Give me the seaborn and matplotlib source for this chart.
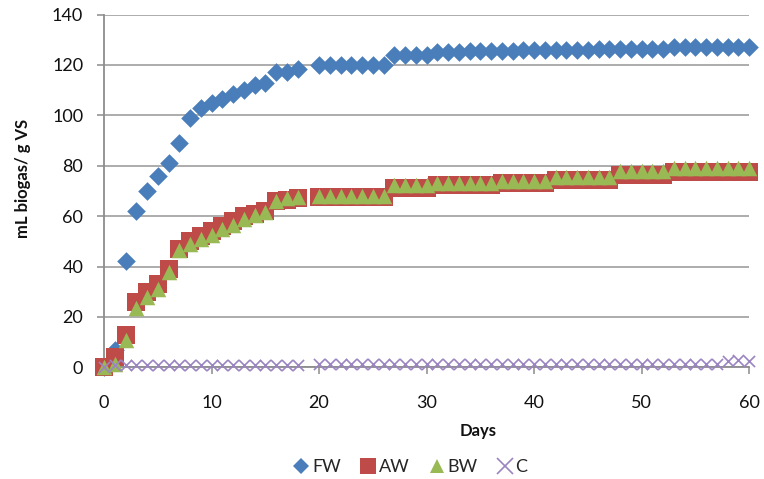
import matplotlib
matplotlib.use("Agg")
import matplotlib.pyplot as plt
from matplotlib.lines import Line2D
import pandas as pd
import seaborn as sns

# Cumulative biogas yield per digester, sampled daily (no reading on day 19)
days = [0, 1, 2, 3, 4, 5, 6, 7, 8, 9, 10, 11, 12, 13, 14, 15, 16, 17, 18,
        20, 21, 22, 23, 24, 25, 26, 27, 28, 29, 30, 31, 32, 33, 34, 35, 36,
        37, 38, 39, 40, 41, 42, 43, 44, 45, 46, 47, 48, 49, 50, 51, 52, 53,
        54, 55, 56, 57, 58, 59, 60]

fw = [0, 7, 42, 62, 70, 76, 81, 89, 99, 103, 105, 106.5, 108.5, 110, 112, 113, 117, 117, 118.5,
      120, 120, 120, 120, 120, 120, 120, 124, 124, 124, 124, 125, 125, 125, 125.5, 125.5, 125.5,
      125.5, 125.5, 126, 126, 126, 126, 126, 126, 126, 126.5, 126.5, 126.5, 126.5, 126.5, 126.5,
      126.5, 127, 127, 127, 127, 127, 127, 127, 127]

aw = [0, 4, 13, 26, 30, 33, 39, 47, 50, 52, 54, 56, 58, 60, 61, 62, 66, 66.5, 67,
      67.5, 67.5, 67.5, 67.5, 67.5, 67.5, 67.5, 71, 71, 71, 71, 72.5, 72.5, 72.5, 72.5, 72.5, 72.5,
      73, 73, 73, 73, 73, 74.5, 74.5, 74.5, 74.5, 74.5, 74.5, 76.5, 76.5, 76.5, 76.5, 76.5,
      77.5, 77.5, 77.5, 77.5, 77.5, 77.5, 77.5, 77.5]

bw = [0, 1.5, 11, 23.5, 28, 31, 38, 46.5, 49, 51, 52.5, 55, 56.5, 59, 60.5, 61.5, 66, 67, 67.5,
      68, 68, 68, 68, 68, 68, 68, 72.5, 72.5, 72.5, 72.5, 73, 73, 73, 73, 73, 73,
      74, 74, 74, 74, 74, 75.5, 75.5, 75.5, 75.5, 75.5, 75.5, 78, 78, 78, 78, 78,
      79, 79, 79, 79, 79, 79, 79, 79]

c = [0, 1, 1, 1, 1, 1, 1, 1, 1, 1, 1, 1, 1, 1, 1, 1, 1, 1, 1,
     1.3, 1.3, 1.3, 1.3, 1.3, 1.3, 1.3, 1.3, 1.3, 1.3, 1.3, 1.3, 1.3, 1.3, 1.3, 1.3, 1.3,
     1.3, 1.3, 1.3, 1.3, 1.3, 1.3, 1.3, 1.3, 1.3, 1.3, 1.3, 1.3, 1.3, 1.3, 1.3, 1.3,
     1.3, 1.3, 1.3, 1.3, 1.3, 2.5, 3, 2.5]

series_names = ["FW", "AW", "BW", "C"]
series_values = [fw, aw, bw, c]
colors = {"FW": "#4A7EBB", "AW": "#BE4B48", "BW": "#98B954", "C": "#9A84C2"}
markers = {"FW": "D", "AW": "s", "BW": "^", "C": "x"}
sizes = {"FW": 90, "AW": 160, "BW": 125, "C": 64}

x_ticks = [0, 10, 20, 30, 40, 50, 60]
y_ticks = [0, 20, 40, 60, 80, 100, 120, 140]

frames = [pd.DataFrame({"Days": days, "yield": vals, "series": name})
          for name, vals in zip(series_names, series_values)]
df = pd.concat(frames, ignore_index=True)

sns.set_style("white")
plt.rcParams["font.family"] = ["Lato", "DejaVu Sans"]

fig = plt.figure(figsize=(7.64, 4.79), dpi=100)
ax = fig.add_axes([104 / 764, 1 - 367.3 / 479, (749 - 104) / 764, (367.3 - 14.5) / 479])

grid_color = "#A6A6A6"
axis_color = "#8C8C8C"

for name in series_names:
    sub = df[df["series"] == name]
    if markers[name] == "x":
        sns.scatterplot(data=sub, x="Days", y="yield", marker="x", s=sizes[name],
                        color=colors[name], linewidth=1.2, clip_on=False,
                        legend=False, ax=ax, zorder=5)
    else:
        sns.scatterplot(data=sub, x="Days", y="yield", marker=markers[name], s=sizes[name],
                        color=colors[name], linewidth=0, clip_on=False,
                        legend=False, ax=ax, zorder=4)

ax.set_xlim(0, 60)
ax.set_ylim(0, 140)
ax.set_xticks(x_ticks)
ax.set_yticks(y_ticks)
ax.set_xlabel("")
ax.set_ylabel("")

ax.yaxis.grid(True, color=grid_color, linewidth=1.3)
ax.xaxis.grid(False)
ax.set_axisbelow(True)

for side in ["top", "right"]:
    ax.spines[side].set_visible(False)
for side in ["left", "bottom"]:
    ax.spines[side].set_visible(True)
    ax.spines[side].set_color(axis_color)
    ax.spines[side].set_linewidth(1.3)

ax.tick_params(axis="y", which="major", direction="out", length=5, width=1.1,
               color=axis_color, pad=10, labelsize=13, labelcolor="#111111", left=True)
ax.tick_params(axis="x", which="major", direction="out", length=5, width=1.1,
               color=axis_color, pad=15, labelsize=13, labelcolor="#111111", bottom=True)

fig.text(23 / 764, 1 - 178 / 479, "mL biogas/ g VS", rotation=90, ha="center", va="center",
         fontsize=12, fontweight="bold", color="#111111")
fig.text(478 / 764, 1 - 431 / 479, "Days", ha="center", va="center",
         fontsize=12, fontweight="bold", color="#111111")

handles = []
for name in series_names:
    if markers[name] == "x":
        h = Line2D([], [], linestyle="none", marker="x", markersize=11,
                   markeredgecolor=colors[name], markeredgewidth=1.2)
    else:
        ms = {"D": 8, "s": 11, "^": 10}[markers[name]]
        h = Line2D([], [], linestyle="none", marker=markers[name], markersize=ms,
                   markerfacecolor=colors[name], markeredgewidth=0)
    handles.append(h)

fig.legend(handles, series_names, loc="center", bbox_to_anchor=(410 / 764, 1 - 467 / 479),
           ncol=4, frameon=False, fontsize=13, handletextpad=0.1, columnspacing=1.0,
           handlelength=1.0)

fig.savefig("out.png", dpi=100)
